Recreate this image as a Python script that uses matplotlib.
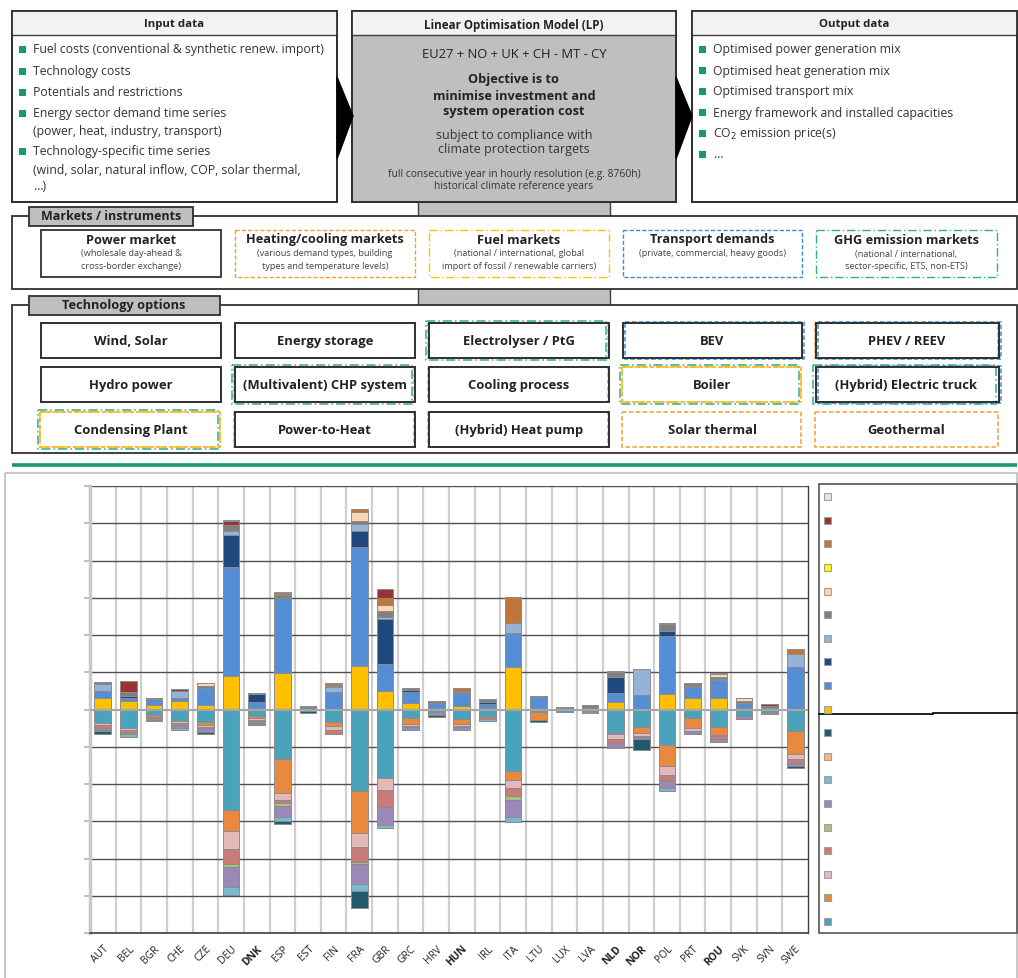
import numpy as np
import matplotlib
matplotlib.use("Agg")
import matplotlib.pyplot as plt
from matplotlib.patches import Rectangle, Polygon

plt.rcParams['font.family'] = ['Open Sans', 'DejaVu Sans']

# ---------------- data ----------------
countries = ["AUT", "BEL", "BGR", "CHE", "CZE", "DEU", "DNK", "ESP", "EST", "FIN",
             "FRA", "GBR", "GRC", "HRV", "HUN", "IRL", "ITA", "LTU", "LUX", "LVA",
             "NLD", "NOR", "POL", "PRT", "ROU", "SVK", "SVN", "SWE"]
bold_labels = ["DNK", "HUN", "NLD", "NOR", "ROU"]

# negative (demand side) series, stacked downward from zero
neg_teal      = [37, 50, 16, 32, 34, 269, 17, 132, 5, 34, 219, 185, 24, 6, 26, 18, 166, 6, 8, 5, 63, 47, 94, 24, 47, 17, 6, 57]
neg_orange    = [0, 0, 4, 0, 7, 58, 6, 91, 0, 11, 112, 0, 15, 0, 13, 0, 24, 22, 0, 0, 4, 17, 58, 27, 21, 0, 0, 63]
neg_pink      = [5, 5, 0, 5, 5, 47, 5, 20, 0, 11, 38, 30, 4, 0, 4, 2, 20, 0, 0, 0, 13, 6, 24, 7, 4, 0, 0, 14]
neg_rose      = [7, 7, 4, 5, 5, 42, 4, 9, 0, 11, 41, 47, 0, 0, 5, 6, 22, 0, 0, 0, 10, 4, 13, 0, 6, 0, 0, 9]
neg_green     = [0, 0, 0, 0, 0, 7, 0, 8, 0, 0, 5, 0, 4, 0, 0, 0, 12, 0, 0, 0, 0, 0, 4, 0, 0, 0, 0, 0]
neg_purple    = [6, 5, 4, 9, 9, 54, 4, 28, 0, 0, 53, 47, 8, 8, 6, 0, 45, 0, 0, 5, 13, 4, 18, 9, 9, 9, 7, 9]
neg_lightblue = [3, 6, 0, 4, 0, 22, 4, 10, 0, 0, 19, 10, 0, 0, 0, 4, 12, 0, 0, 0, 0, 0, 9, 0, 0, 0, 0, 0]
neg_lightorg  = [0] * 28
neg_darkteal  = [8, 0, 3, 0, 5, 0, 2, 10, 4, 0, 45, 0, 0, 5, 0, 0, 0, 6, 0, 0, 0, 30, 0, 0, 0, 0, 0, 4]

# positive (supply side) series, stacked upward from zero
pos_gold      = [30, 22, 12, 24, 13, 90, 5, 97, 0, 0, 116, 51, 17, 4, 9, 3, 115, 4, 0, 0, 21, 0, 41, 30, 32, 5, 4, 0]
pos_blue      = [21, 9, 16, 6, 46, 292, 16, 201, 6, 48, 319, 71, 30, 13, 37, 13, 90, 30, 0, 3, 22, 40, 157, 30, 48, 13, 0, 113]
pos_navy      = [0, 4, 0, 0, 0, 86, 20, 0, 0, 0, 44, 121, 6, 0, 0, 4, 0, 0, 0, 0, 45, 0, 13, 4, 0, 0, 0, 0]
pos_steel     = [17, 0, 0, 20, 0, 11, 0, 0, 0, 12, 20, 5, 0, 0, 0, 0, 26, 0, 0, 0, 0, 69, 0, 0, 3, 0, 0, 36]
pos_gray      = [5, 12, 4, 0, 4, 17, 4, 9, 3, 0, 6, 16, 6, 5, 0, 8, 2, 3, 3, 8, 12, 0, 18, 8, 3, 6, 5, 0]
pos_peach     = [0, 0, 0, 0, 9, 0, 0, 0, 0, 4, 25, 16, 0, 0, 0, 0, 0, 0, 0, 0, 0, 0, 0, 0, 8, 7, 0, 0]
pos_yellow    = [0] * 28
pos_brown     = [0, 0, 0, 0, 0, 0, 0, 5, 0, 4, 7, 20, 0, 0, 13, 0, 70, 0, 0, 0, 0, 0, 0, 0, 0, 0, 0, 13]
pos_darkred   = [0, 30, 0, 4, 0, 10, 0, 0, 0, 3, 0, 23, 0, 0, 0, 0, 0, 0, 4, 0, 4, 0, 3, 0, 0, 0, 5, 0]
pos_pale      = [0, 0, 0, 0, 0, 3, 0, 4, 0, 0, 0, 0, 0, 0, 0, 0, 0, 0, 0, 0, 0, 0, 0, 0, 3, 0, 0, 0]

neg_series = [neg_teal, neg_orange, neg_pink, neg_rose, neg_green, neg_purple,
              neg_lightblue, neg_lightorg, neg_darkteal]
neg_colors = ['#4aa3ba', '#e8893f', '#e6b8b7', '#c97b79', '#a6c27b', '#9a88b6',
              '#7ab8d2', '#f9b382', '#215a69']
pos_series = [pos_gold, pos_blue, pos_navy, pos_steel, pos_gray, pos_peach,
              pos_yellow, pos_brown, pos_darkred, pos_pale]
pos_colors = ['#ffc000', '#558ed5', '#1f497d', '#95b3d7', '#808080', '#fcd5b4',
              '#ffff00', '#c0753a', '#963634', '#dce6f2']

# ---------------- figure ----------------
W, H = 1018, 979
fig = plt.figure(figsize=(W / 100, H / 100), dpi=100)
ov = fig.add_axes([0, 0, 1, 1])
ov.set_xlim(0, W)
ov.set_ylim(H, 0)
ov.axis('off')

GREEN = '#1a9873'
ORANGE = '#f0a032'
YELLOW = '#ffc000'
BLUE = '#3c8dd0'
TEAL = '#2fae8c'


def rect(x0, y0, x1, y1, fc='none', ec='#303030', lw=1.2, ls='-', z=2):
    ov.add_patch(Rectangle((x0, y0), x1 - x0, y1 - y0, facecolor=fc, edgecolor=ec,
                           lw=lw, ls=ls, zorder=z))


def txt(x, y, s, size=8, weight='normal', ha='center', color='#222222', z=5):
    ov.text(x, y, s, fontsize=size, fontweight=weight, ha=ha, va='center',
            color=color, zorder=z)


# gray connectors behind
rect(418, 198, 610, 220, fc='#bfbfbf', ec='#404040', lw=1.0, z=1)
rect(418, 288, 610, 308, fc='#bfbfbf', ec='#404040', lw=1.0, z=1)

# top three boxes
for (x0, x1) in [(12, 337), (352, 676), (692, 1017)]:
    body = '#bfbfbf' if x0 == 352 else 'white'
    rect(x0, 12, x1, 203, fc=body, ec='#303030', lw=1.3, z=2)
    rect(x0, 12, x1, 36, fc='#f2f2f2', ec='none', lw=0, z=3)
    ov.plot([x0, x1], [36, 36], color='#404040', lw=1.0, zorder=4)
    rect(x0, 12, x1, 203, fc='none', ec='#303030', lw=1.3, z=4)

txt(174, 25, "Input data", 8.2, 'bold')
txt(514, 25, "Linear Optimisation Model (LP)", 8.4, 'bold')
txt(854, 25, "Output data", 8.2, 'bold')

# arrows
ov.add_patch(Polygon([[337, 78], [353, 117], [337, 160]], closed=True, fc='black', ec='black', zorder=6))
ov.add_patch(Polygon([[676, 78], [692, 117], [676, 160]], closed=True, fc='black', ec='black', zorder=6))

# input bullets
in_items = [(50, ["Fuel costs (conventional & synthetic renew. import)"]),
            (72, ["Technology costs"]),
            (93, ["Potentials and restrictions"]),
            (114, ["Energy sector demand time series", "(power, heat, industry, transport)"]),
            (152, ["Technology-specific time series", "(wind, solar, natural inflow, COP, solar thermal,", "…)"])]
for y, lines in in_items:
    ov.add_patch(Rectangle((19, y - 3.5), 7, 7, fc=GREEN, ec='none', zorder=5))
    for k, line in enumerate(lines):
        yy = y + [0, 18, 35][k]
        txt(33, yy, line, 8.8, ha='left', color='#333333')

out_items = ["Optimised power generation mix", "Optimised heat generation mix",
             "Optimised transport mix", "Energy framework and installed capacities",
             "CO$_2$ emission price(s)", "…"]
for k, s in enumerate(out_items):
    y = 50 + k * 21
    ov.add_patch(Rectangle((699, y - 3.5), 7, 7, fc=GREEN, ec='none', zorder=5))
    txt(713, y, s, 8.8, ha='left', color='#333333')

# LP body text
txt(514, 55, "EU27 + NO + UK + CH - MT - CY", 9.4)
txt(514, 80, "Objective is to", 9.2, 'bold')
txt(514, 96, "minimise investment and", 9.2, 'bold')
txt(514, 111, "system operation cost", 9.2, 'bold')
txt(514, 135, "subject to compliance with", 9.0, color='#333333')
txt(514, 150, "climate protection targets", 9.0, color='#333333')
txt(514, 174, "full consecutive year in hourly resolution (e.g. 8760h)", 7.4, color='#333333')
txt(514, 187, "historical climate reference years", 7.4, color='#333333')

# ---------------- markets ----------------
rect(12, 217, 1017, 290, fc='white', ec='#303030', lw=1.3, z=2)
rect(29, 208, 193, 227, fc='#bfbfbf', ec='#303030', lw=1.3, z=3)
txt(111, 217, "Markets / instruments", 9.0, 'bold')

cols = [(41, 221), (235, 415), (429, 609), (623, 802), (816, 997)]
markets = [("Power market", ["(wholesale day-ahead &", "cross-border exchange)"], '#303030', '-'),
           ("Heating/cooling markets", ["(various demand types, building", "types and temperature levels)"], ORANGE, (0, (3, 1.5))),
           ("Fuel markets", ["(national / international, global", "import of fossil / renewable carriers)"], YELLOW, (0, (6, 2, 1, 2))),
           ("Transport demands", ["(private, commercial, heavy goods)"], BLUE, (0, (3, 1.5))),
           ("GHG emission markets", ["(national / international,", "sector-specific, ETS, non-ETS)"], TEAL, (0, (6, 2, 1, 2)))]
for (x0, x1), (title, subs, ec, ls) in zip(cols, markets):
    rect(x0, 231, x1, 278, fc='white', ec=ec, lw=1.3 if ls == '-' else 1.0, ls=ls, z=3)
    cx = (x0 + x1) / 2
    txt(cx, 240, title, 9.2, 'bold')
    for k, s in enumerate(subs):
        txt(cx, 254 + 13 * k, s, 6.6, color='#444444')

# ---------------- technology options ----------------
rect(12, 306, 1017, 454, fc='white', ec='#303030', lw=1.3, z=2)
rect(29, 297, 220, 316, fc='#bfbfbf', ec='#303030', lw=1.3, z=3)
txt(124, 306, "Technology options", 9.2, 'bold')

rows = [(324, 359), (368, 403), (413, 448)]
tech = [["Wind, Solar", "Energy storage", "Electrolyser / PtG", "BEV", "PHEV / REEV"],
        ["Hydro power", "(Multivalent) CHP system", "Cooling process", "Boiler", "(Hybrid) Electric truck"],
        ["Condensing Plant", "Power-to-Heat", "(Hybrid) Heat pump", "Solar thermal", "Geothermal"]]
# outline styles: (colour, linestyle, offset)
S = ('#303030', '-', 0)
O = (ORANGE, (0, (3, 1.5)), 1)
Y = (YELLOW, (0, (6, 2, 1, 2)), 1)
B = (BLUE, (0, (3, 1.5)), 2)
G = (TEAL, (0, (6, 2, 1, 2)), 3)
styles = [[[S], [S], [O, G, S], [B, S], [O, B, S]],
          [[S], [O, G, S], [O, S], [O, Y, G], [G, B, S]],
          [[O, G, Y], [O, S], [O, S], [O], [O]]]
for r, (y0, y1) in enumerate(rows):
    for c, (x0, x1) in enumerate(cols):
        xa0, xa1 = x0, (x1 + 2 if c == 4 else x1)
        for (ec, ls, off) in styles[r][c]:
            if ec == '#303030':
                rect(xa0, y0, xa1, y1, ec=ec, lw=1.4, ls=ls, z=4)
            else:
                sx = -off if off % 2 else off
                rect(xa0 + sx, y0 - off + 1, xa1 + sx, y1 + off - 1, ec=ec, lw=1.1, ls=ls, z=3)
        txt((x0 + x1) / 2, (y0 + y1) / 2 + 0.5, tech[r][c], 9.4, 'bold')

# green separator
ov.plot([12, 1017], [466, 466], color=GREEN, lw=2.6, solid_capstyle='butt', zorder=2)

# chart outer frame and legend box
rect(5, 474, 1017, 990, fc='none', ec='#bdbdbd', lw=1.2, z=1)
rect(819, 485, 1017, 934, fc='white', ec='#555555', lw=1.2, z=2)
ov.plot([819, 933], [715, 715], color='#111111', lw=1.3, zorder=3)
ov.plot([933, 1017], [713.5, 713.5], color='#111111', lw=1.3, zorder=3)

legend_colors = list(reversed(neg_colors + pos_colors))
for k, col in enumerate(legend_colors):
    y = 497.7 + k * 23.6
    ov.add_patch(Rectangle((824, y - 3.5), 7, 7, fc=col, ec='#a0a0a0', lw=0.8, zorder=4))

# ---------------- chart ----------------
ax = fig.add_axes([90 / W, (H - 934) / H, 718 / W, 447 / H])
ax.patch.set_alpha(0)
x = np.arange(len(countries))

bottom = np.zeros(len(countries))
for vals, col in zip(pos_series, pos_colors):
    v = np.array(vals, dtype=float)
    ax.bar(x, v, 0.65, bottom=bottom, color=col, edgecolor='#8c8c8c', lw=0.7, zorder=3)
    bottom += v
bottom = np.zeros(len(countries))
for vals, col in zip(neg_series, neg_colors):
    v = -np.array(vals, dtype=float)
    ax.bar(x, v, 0.65, bottom=bottom, color=col, edgecolor='#8c8c8c', lw=0.7, zorder=3)
    bottom += v

ax.set_xlim(-0.5, len(countries) - 0.5)
ax.set_ylim(-600, 600)
for yv in range(-600, 601, 100):
    if yv == 0:
        ax.axhline(0, color='#a6a6a6', lw=1.5, zorder=4)
    else:
        ax.axhline(yv, color='#505050', lw=1.0, zorder=1)
for xv in np.arange(0.5, len(countries) - 0.5, 1):
    ax.axvline(xv, color='#cfcfcf', lw=1.6, zorder=0)

ax.set_yticks(range(-600, 601, 100))
ax.set_yticklabels([])
ax.tick_params(axis='y', length=4, width=1.5, color='#c0c0c0', direction='out')
ax.set_xticks(x)
ax.set_xticklabels(countries, rotation=45, ha='right', rotation_mode='anchor', fontsize=7.5,
                   color='#222222')
ax.tick_params(axis='x', length=0, pad=7)
for lab in ax.get_xticklabels():
    if lab.get_text() in bold_labels:
        lab.set_fontweight('bold')
ax.spines['top'].set_visible(False)
ax.spines['left'].set_color('#c8c8c8')
ax.spines['left'].set_linewidth(2.5)
ax.spines['right'].set_color('#404040')
ax.spines['right'].set_linewidth(1.0)
ax.spines['bottom'].set_color('#404040')
ax.spines['bottom'].set_linewidth(1.2)

fig.savefig("out.png", dpi=100)
